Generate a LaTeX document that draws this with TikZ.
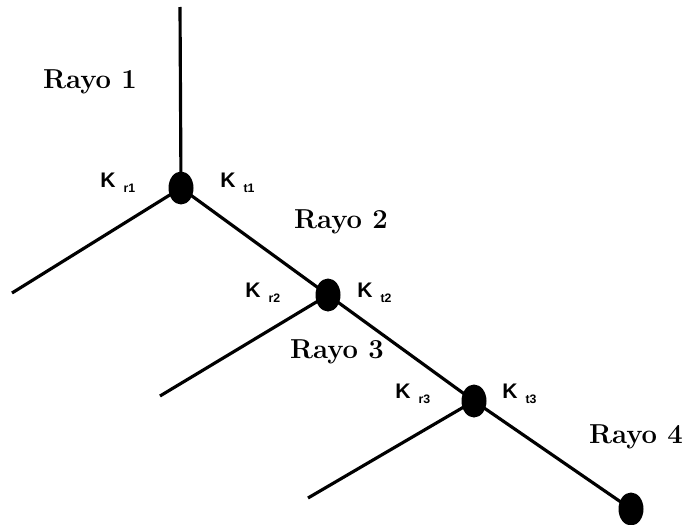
\documentclass[tikz,border=0pt]{standalone}
\usepackage{fontspec}
\setsansfont{Liberation Sans}
\usetikzlibrary{shapes.geometric}

% K label with its small lowered index
\newcommand{\klab}[1]{K\hspace{0.16cm}\raisebox{-1mm}{\fontsize{7}{8}\selectfont #1}}

\begin{document}
\begin{tikzpicture}[x=0.02cm,y=-0.02cm,
  union/.style={ellipse, fill=black, minimum width=0.5cm, minimum height=0.66cm, inner sep=0pt},
  rayo/.style={font=\fontsize{15.6}{18}\selectfont\bfseries, inner sep=0pt, anchor=base},
  kval/.style={font=\fontsize{12}{14}\sffamily\bfseries, inner sep=0pt, anchor=base west},
  tramo/.style={line width=1.8pt}]
\useasboundingbox (0,0) rectangle (686,524);

% Uniones
\node[union] (u1) at (181,188) {};
\node[union] (u2) at (328,295) {};
\node[union] (u3) at (474,401) {};
\node[union] (u4) at (631,509) {};

% Extremos libres
\coordinate (top) at (180,7);
\coordinate (e1) at (12,293);
\coordinate (e2) at (160,396);
\coordinate (e3) at (308,498);

% Tramos
\draw[tramo] (top) -- (u1.center);
\draw[tramo] (u1.center) -- (e1);
\draw[tramo] (u1.center) -- (u2.center);
\draw[tramo] (u2.center) -- (e2);
\draw[tramo] (u2.center) -- (u3.center);
\draw[tramo] (u3.center) -- (e3);
\draw[tramo] (u3.center) -- (u4.center);

% Rayos
\node[rayo] (r1) at (90,88) {Rayo 1};
\node[rayo] (r2) at (341,228) {Rayo 2};
\node[rayo] (r3) at (337,358) {Rayo 3};
\node[rayo] (r4) at (636,443) {Rayo 4};

% Coeficientes
\node[kval] (kr1) at (100,187) {\klab{r1}};
\node[kval] (kt1) at (220,187) {\klab{t1}};
\node[kval] (kr2) at (245,297) {\klab{r2}};
\node[kval] (kt2) at (357,297) {\klab{t2}};
\node[kval] (kr3) at (395,398) {\klab{r3}};
\node[kval] (kt3) at (502,398) {\klab{t3}};
\end{tikzpicture}
\end{document}
